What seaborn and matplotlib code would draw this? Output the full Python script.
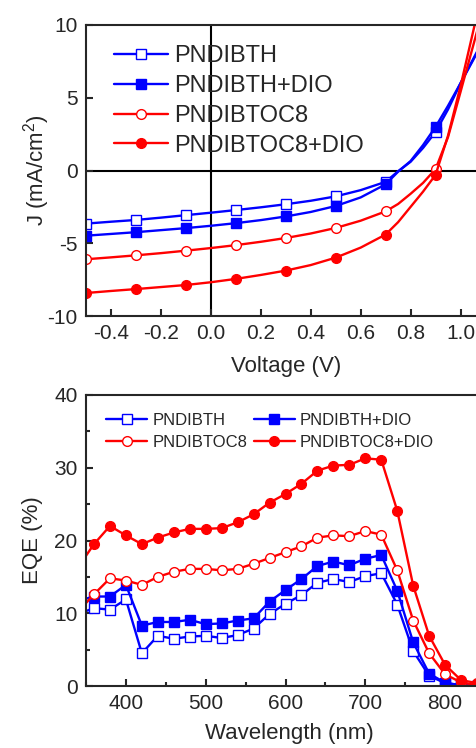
import numpy as np
import pandas as pd
import seaborn as sns
import matplotlib
matplotlib.use("Agg")
import matplotlib.pyplot as plt
from matplotlib.ticker import MultipleLocator

# J-V curves, markers every 0.2 V
voltage = [-0.5, -0.4, -0.3, -0.2, -0.1, 0.0, 0.1, 0.2, 0.3, 0.4, 0.5, 0.6,
           0.7, 0.75, 0.8, 0.85, 0.9, 0.95, 1.0, 1.07]
jv_marks = [0, 2, 4, 6, 8, 10, 12, 16]
j_bth = [-3.65, -3.52, -3.40, -3.24, -3.07, -2.90, -2.72, -2.53, -2.32, -2.08,
         -1.78, -1.35, -0.78, -0.05, 0.60, 1.55, 2.65, 4.2, 6.0, 8.3]
j_bth_dio = [-4.48, -4.36, -4.24, -4.10, -3.96, -3.80, -3.62, -3.41, -3.16, -2.85,
             -2.44, -1.85, -0.95, -0.08, 0.65, 1.75, 3.0, 4.45, 6.0, 8.2]
j_toc8 = [-6.10, -5.97, -5.83, -5.68, -5.51, -5.33, -5.13, -4.90, -4.64, -4.33,
          -3.95, -3.45, -2.81, -2.30, -1.60, -0.85, 0.10, 2.3, 5.4, 9.8]
j_toc8_dio = [-8.42, -8.28, -8.15, -8.01, -7.87, -7.68, -7.45, -7.18, -6.88, -6.50,
              -5.99, -5.30, -4.40, -3.55, -2.50, -1.45, -0.30, 2.4, 5.8, 11.0]

# EQE spectra
wavelength = [350, 360, 380, 400, 420, 440, 460, 480, 500, 520, 540, 560, 580,
              600, 620, 640, 660, 680, 700, 720, 740, 760, 780, 800, 820, 840]
eqe_bth = [10.3, 10.7, 10.5, 11.9, 4.5, 6.9, 6.5, 6.8, 6.9, 6.6, 7.0, 7.9, 9.9,
           11.3, 12.5, 14.2, 14.7, 14.3, 15.1, 15.5, 11.2, 4.8, 1.4, 0.4, 0.1, 0.0]
eqe_bth_dio = [12.0, 12.3, 12.3, 13.9, 8.3, 8.8, 8.8, 9.1, 8.5, 8.6, 9.0, 9.3, 11.6,
               13.2, 14.7, 16.5, 17.1, 16.6, 17.5, 18.0, 13.1, 6.0, 1.7, 0.45, 0.1, 0.0]
eqe_toc8 = [11.4, 12.6, 14.8, 14.5, 13.9, 15.0, 15.7, 16.1, 16.1, 15.9, 16.1, 16.8, 17.6,
            18.4, 19.2, 20.4, 20.7, 20.6, 21.3, 20.8, 15.9, 9.0, 4.5, 1.6, 0.5, 0.1]
eqe_toc8_dio = [17.9, 19.5, 22.0, 20.7, 19.5, 20.4, 21.1, 21.6, 21.6, 21.7, 22.5, 23.6, 25.2,
                26.4, 27.8, 29.6, 30.3, 30.4, 31.3, 31.1, 24.1, 13.8, 6.9, 2.9, 0.8, 0.4]

labels = ["PNDIBTH", "PNDIBTH+DIO", "PNDIBTOC8", "PNDIBTOC8+DIO"]
colors = ["#0000ff", "#0000ff", "#ff0000", "#ff0000"]
markers = ["s", "s", "o", "o"]
filled = [False, True, False, True]

sns.set_style("ticks")
plt.rcParams["font.family"] = ["Liberation Sans", "DejaVu Sans"]
plt.rcParams["mathtext.default"] = "regular"
plt.rcParams["axes.unicode_minus"] = False
plt.rcParams["axes.linewidth"] = 1.5
plt.rcParams["xtick.direction"] = "in"
plt.rcParams["ytick.direction"] = "in"

fig = plt.figure(figsize=(4.76, 7.48), dpi=100)
W, H = 476.0, 748.0
ax1 = fig.add_axes([86 / W, 1 - 316 / H, 399.5 / W, 291 / H])
ax2 = fig.add_axes([86 / W, 1 - 686 / H, 407 / W, 291 / H])

# --- J-V panel ---
for lab, j, c, m, f in zip(labels, [j_bth, j_bth_dio, j_toc8, j_toc8_dio],
                           colors, markers, filled):
    df = pd.DataFrame({"V": voltage, "J": j})
    sns.lineplot(data=df, x="V", y="J", ax=ax1, color=c, lw=1.7, label=lab,
                 marker=m, markersize=7, markevery=jv_marks,
                 markerfacecolor=c if f else "white", markeredgecolor=c,
                 markeredgewidth=1.0)
ax1.axhline(0, color="black", lw=1.5, zorder=0)
ax1.axvline(0, color="black", lw=1.5, zorder=0)
ax1.set_xlim(-0.5, 1.1)
ax1.set_ylim(-10, 10)
ax1.xaxis.set_major_locator(MultipleLocator(0.2))
ax1.yaxis.set_major_locator(MultipleLocator(5))
ax1.xaxis.set_major_formatter(matplotlib.ticker.FormatStrFormatter("%.1f"))
ax1.tick_params(labelsize=15, width=1.5, length=5, pad=6)
ax1.set_xlabel("Voltage (V)", fontsize=16, labelpad=9)
ax1.set_ylabel(r"J (mA/cm$^2$)", fontsize=16, labelpad=-3)
ax1.legend(loc="upper left", bbox_to_anchor=(0.07, 0.93), frameon=False,
           fontsize=17, handlelength=2.3, handletextpad=0.25, labelspacing=0.33,
           borderpad=0, borderaxespad=0, numpoints=1)

# --- EQE panel ---
for lab, e, c, m, f in zip(labels, [eqe_bth, eqe_bth_dio, eqe_toc8, eqe_toc8_dio],
                           colors, markers, filled):
    df = pd.DataFrame({"wl": wavelength, "eqe": e})
    sns.lineplot(data=df, x="wl", y="eqe", ax=ax2, color=c, lw=1.7, label=lab,
                 marker=m, markersize=7, markevery=list(range(1, len(wavelength))),
                 markerfacecolor=c if f else "white", markeredgecolor=c,
                 markeredgewidth=1.0)
ax2.set_xlim(350, 860)
ax2.set_ylim(0, 40)
ax2.xaxis.set_major_locator(MultipleLocator(100))
ax2.xaxis.set_minor_locator(MultipleLocator(50))
ax2.yaxis.set_major_locator(MultipleLocator(10))
ax2.yaxis.set_minor_locator(MultipleLocator(5))
ax2.tick_params(which="major", labelsize=15, width=1.5, length=5, pad=6)
ax2.tick_params(which="minor", width=1.5, length=3)
ax2.set_xlabel("Wavelength (nm)", fontsize=16, labelpad=7)
ax2.set_ylabel("EQE (%)", fontsize=16, labelpad=8)
h, l = ax2.get_legend_handles_labels()
order = [0, 2, 1, 3]
ax2.legend([h[i] for i in order], [l[i] for i in order], loc="upper left",
           bbox_to_anchor=(0.05, 0.937), frameon=False, ncol=2, fontsize=12,
           handlelength=2.45, handletextpad=0.3, labelspacing=0.38,
           columnspacing=0.4, borderpad=0, borderaxespad=0, numpoints=1)

fig.savefig("out.png", dpi=100)
